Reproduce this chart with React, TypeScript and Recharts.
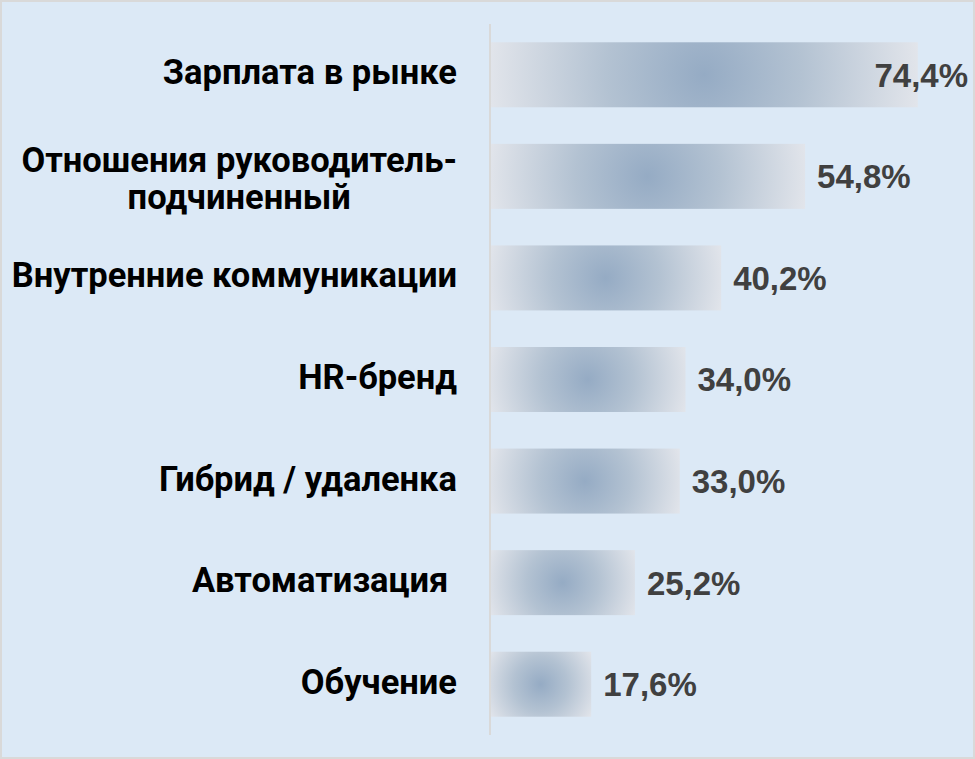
import React from 'react';
import { BarChart, Bar, XAxis, YAxis, LabelList } from 'recharts';

const categories = [
  'Зарплата в рынке',
  'Отношения руководитель-подчиненный',
  'Внутренние коммуникации',
  'HR-бренд',
  'Гибрид / удаленка',
  'Автоматизация ',
  'Обучение',
];
const values = [74.4, 54.8, 40.2, 34.0, 33.0, 25.2, 17.6];
const xDomain = [0, 80];

const data = categories.map((name, i) => ({ name, value: values[i] }));

const W = 975;
const H = 759;
const BORDER = 2;
const CHART_W = W - 2 * BORDER;
const CHART_H = H - 2 * BORDER;

const CAT_FONT = 'Roboto, "Liberation Sans", sans-serif';
const CAT_SIZE = 34.5;
const VAL_FONT = '"Liberation Sans", Arial, sans-serif';
const VAL_SIZE = 33;

let canvasEl: HTMLCanvasElement | null = null;
function measure(text: string, font: string): number {
  if (typeof document === 'undefined') return text.length * 18;
  if (!canvasEl) canvasEl = document.createElement('canvas');
  const ctx = canvasEl.getContext('2d');
  if (!ctx) return text.length * 18;
  ctx.font = font;
  return ctx.measureText(text).width;
}

function splitLabel(s: string): string[] {
  const i = s.indexOf('-');
  if (s.length > 25 && i > 0 && i < s.length - 1) return [s.slice(0, i + 1), s.slice(i + 1)];
  return [s];
}

const CategoryTick = (props: any) => {
  const { x, y, payload } = props;
  const lines = splitLabel(String(payload.value));
  const font = `700 ${CAT_SIZE}px ${CAT_FONT}`;
  const widths = lines.map((l) => measure(l, font));
  const maxW = Math.max(...widths);
  const cx = x - maxW / 2;
  const first = y + 9.5 - (lines.length - 1) * 13.5;
  return (
    <g>
      {lines.map((l, i) => (
        <text
          key={i}
          x={cx}
          y={first + i * 36.5}
          textAnchor="middle"
          fill="#000000"
          fontFamily={CAT_FONT}
          fontSize={CAT_SIZE}
          fontWeight={700}
          style={{ whiteSpace: 'pre' }}
        >
          {l}
        </text>
      ))}
    </g>
  );
};

const GradientBar = (props: any) => {
  const { x, y, width, height, index } = props;
  if (!width || width <= 0) return null;
  const id = `barGrad${index}`;
  const r = Math.sqrt(width * width + height * height) / 2;
  return (
    <g>
      <defs>
        <radialGradient id={id} gradientUnits="userSpaceOnUse" cx={x + width / 2} cy={y + height / 2} r={r}>
          <stop offset="0%" stopColor="#95abc4" />
          <stop offset="45%" stopColor="#b3c2d2" />
          <stop offset="100%" stopColor="#e2e5eb" />
        </radialGradient>
      </defs>
      <rect x={x} y={y} width={width} height={height} fill={`url(#${id})`} />
    </g>
  );
};

const ValueLabel = (props: any) => {
  const vb = props.viewBox || props;
  const x = Number(vb.x);
  const y = Number(vb.y);
  const width = Number(vb.width);
  const height = Number(vb.height);
  const value = Number(props.value);
  const text = value.toFixed(1).replace('.', ',') + '%';
  const font = `700 ${VAL_SIZE}px ${VAL_FONT}`;
  const w = measure(text, font);
  let tx = x + width + 12;
  const limit = CHART_W - 5;
  if (tx + w > limit) tx = limit - w;
  return (
    <text
      x={tx}
      y={y + height / 2 + 0.36 * VAL_SIZE}
      textAnchor="start"
      fill="#404040"
      fontFamily={VAL_FONT}
      fontSize={VAL_SIZE}
      fontWeight={700}
    >
      {text}
    </text>
  );
};

export default function App() {
  return (
    <div
      style={{
        position: 'absolute',
        left: 0,
        top: 0,
        width: W,
        height: H,
        boxSizing: 'border-box',
        border: `${BORDER}px solid #d9d9d9`,
        background: '#dce9f6',
      }}
    >
      <BarChart
        width={CHART_W}
        height={CHART_H}
        data={data}
        layout="vertical"
        margin={{ top: 22, right: 23, bottom: 22, left: 0 }}
        barCategoryGap="18%"
      >
        <XAxis type="number" domain={xDomain} hide />
        <YAxis
          type="category"
          dataKey="name"
          width={488}
          axisLine={{ stroke: '#d9d9d9', strokeWidth: 2 }}
          tickLine={false}
          tickSize={0}
          tickMargin={33}
          tick={<CategoryTick />}
          interval={0}
        />
        <Bar dataKey="value" shape={<GradientBar />} isAnimationActive={false}>
          <LabelList dataKey="value" content={<ValueLabel />} />
        </Bar>
      </BarChart>
    </div>
  );
}
